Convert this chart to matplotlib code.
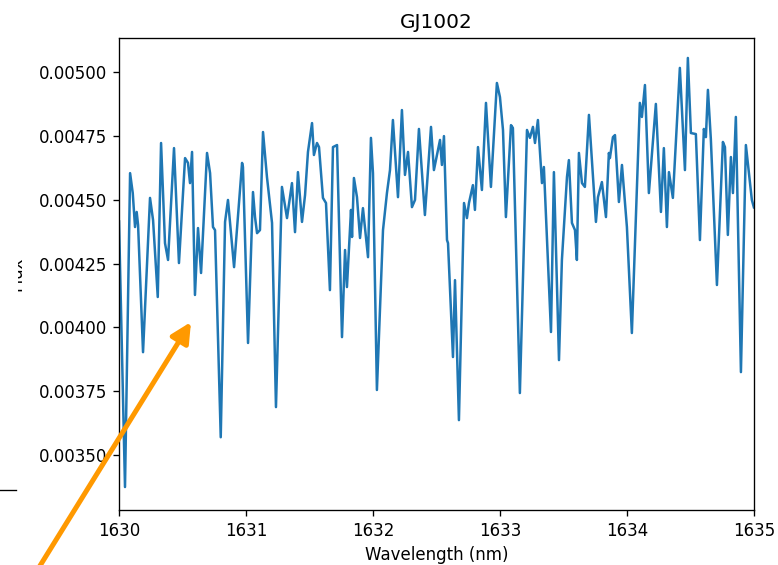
import matplotlib as mpl
mpl.use('Agg')

import matplotlib.pyplot as plt
import matplotlib.patches as patches
import matplotlib.lines as lines

# Spectrum
wavelength = [
    1630.000, 1630.047, 1630.087, 1630.108, 1630.126, 1630.139, 1630.150, 1630.189,
    1630.244, 1630.268, 1630.305, 1630.331, 1630.362, 1630.386, 1630.433, 1630.472,
    1630.520, 1630.543, 1630.559, 1630.575, 1630.598, 1630.622, 1630.646, 1630.693,
    1630.717, 1630.740, 1630.756, 1630.801, 1630.835, 1630.858, 1630.906, 1630.969,
    1630.976, 1631.016, 1631.055, 1631.071, 1631.087, 1631.110, 1631.134, 1631.165,
    1631.205, 1631.236, 1631.283, 1631.323, 1631.362, 1631.386, 1631.409, 1631.441,
    1631.465, 1631.488, 1631.520, 1631.535, 1631.559, 1631.575, 1631.606, 1631.630,
    1631.661, 1631.685, 1631.717, 1631.756, 1631.780, 1631.795, 1631.827, 1631.835,
    1631.850, 1631.874, 1631.898, 1631.921, 1631.961, 1631.984, 1632.000, 1632.031,
    1632.079, 1632.110, 1632.134, 1632.157, 1632.197, 1632.228, 1632.252, 1632.276,
    1632.307, 1632.331, 1632.362, 1632.409, 1632.457, 1632.480, 1632.504, 1632.528,
    1632.543, 1632.559, 1632.583, 1632.591, 1632.630, 1632.646, 1632.677, 1632.717,
    1632.740, 1632.756, 1632.787, 1632.803, 1632.827, 1632.858, 1632.890, 1632.929,
    1632.976, 1633.000, 1633.024, 1633.047, 1633.087, 1633.102, 1633.157, 1633.213,
    1633.236, 1633.260, 1633.276, 1633.299, 1633.331, 1633.346, 1633.402, 1633.425,
    1633.465, 1633.488, 1633.528, 1633.543, 1633.567, 1633.591, 1633.606, 1633.622,
    1633.646, 1633.669, 1633.701, 1633.756, 1633.772, 1633.803, 1633.835, 1633.858,
    1633.866, 1633.890, 1633.906, 1633.937, 1633.961, 1634.000, 1634.039, 1634.071,
    1634.102, 1634.118, 1634.142, 1634.173, 1634.228, 1634.268, 1634.291, 1634.315,
    1634.331, 1634.362, 1634.417, 1634.457, 1634.480, 1634.504, 1634.543, 1634.575,
    1634.606, 1634.622, 1634.638, 1634.661, 1634.709, 1634.756, 1634.772, 1634.795,
    1634.819, 1634.835, 1634.858, 1634.898, 1634.937, 1634.984, 1635.000,
]

flux = [
    0.004415, 0.003375, 0.004604, 0.004526, 0.004393, 0.004452, 0.004401, 0.003903,
    0.004507, 0.004420, 0.004119, 0.004722, 0.004330, 0.004264, 0.004702, 0.004252,
    0.004663, 0.004644, 0.004565, 0.004687, 0.004127, 0.004389, 0.004213, 0.004683,
    0.004604, 0.004393, 0.004381, 0.003570, 0.004413, 0.004499, 0.004236, 0.004644,
    0.004628, 0.003939, 0.004530, 0.004432, 0.004369, 0.004381, 0.004765, 0.004589,
    0.004409, 0.003688, 0.004550, 0.004428, 0.004565, 0.004373, 0.004608, 0.004413,
    0.004518, 0.004687, 0.004800, 0.004675, 0.004722, 0.004706, 0.004507, 0.004487,
    0.004146, 0.004706, 0.004714, 0.003962, 0.004303, 0.004158, 0.004460, 0.004354,
    0.004585, 0.004510, 0.004350, 0.004467, 0.004275, 0.004742, 0.004604, 0.003755,
    0.004381, 0.004526, 0.004616, 0.004812, 0.004510, 0.004851, 0.004597, 0.004687,
    0.004471, 0.004499, 0.004777, 0.004440, 0.004785, 0.004616, 0.004675, 0.004734,
    0.004636, 0.004749, 0.004342, 0.004330, 0.003884, 0.004185, 0.003637, 0.004487,
    0.004428, 0.004487, 0.004557, 0.004460, 0.004706, 0.004538, 0.004879, 0.004550,
    0.004957, 0.004902, 0.004773, 0.004432, 0.004792, 0.004781, 0.003743, 0.004773,
    0.004742, 0.004785, 0.004722, 0.004812, 0.004565, 0.004628, 0.003982, 0.004608,
    0.003872, 0.004264, 0.004589, 0.004655, 0.004409, 0.004381, 0.004264, 0.004683,
    0.004565, 0.004550, 0.004832, 0.004413, 0.004510, 0.004569, 0.004432, 0.004683,
    0.004663, 0.004745, 0.004753, 0.004491, 0.004636, 0.004393, 0.003978, 0.004432,
    0.004879, 0.004824, 0.004949, 0.004526, 0.004875, 0.004452, 0.004702, 0.004393,
    0.004608, 0.004507, 0.005016, 0.004616, 0.005055, 0.004761, 0.004757, 0.004342,
    0.004777, 0.004745, 0.004930, 0.004738, 0.004166, 0.004726, 0.004706, 0.004362,
    0.004667, 0.004526, 0.004824, 0.003825, 0.004714, 0.004499, 0.004470,
]

# original was rendered at 120 dpi with default font sizes
DPI = 120
fig = plt.figure(figsize=(778 / DPI, 565 / DPI), dpi=DPI)
ax = fig.add_axes([0.153, 0.0973, 0.816, 0.8354])

ax.plot(wavelength, flux, color='#1f77b4', lw=1.5)
ax.set_xlim(1630, 1635)
ax.set_ylim(0.003285, 0.005133)
ax.set_xticks([1630, 1631, 1632, 1633, 1634, 1635])
ax.set_yticks([0.0035, 0.00375, 0.0040, 0.00425, 0.0045, 0.00475, 0.0050])
ax.set_yticklabels(['0.00350', '0.00375', '0.00400', '0.00425',
                    '0.00450', '0.00475', '0.00500'])
ax.set_xlabel('Wavelength (nm)')
ax.set_ylabel('Flux', labelpad=8)
ax.set_title('GJ1002')

# the left strip of the screenshot hides half of the y label
fig.patches.append(patches.Rectangle((0, 0), 18, 565, transform=None,
                                     facecolor='white', edgecolor='none',
                                     zorder=5))
fig.lines.append(lines.Line2D([0, 16], [75, 75], transform=None,
                              color='black', lw=0.8, zorder=6))

# orange pointer arrow
ax.annotate('', xy=(191, 243), xytext=(38, -4),
            xycoords='figure pixels', textcoords='figure pixels',
            annotation_clip=False,
            arrowprops=dict(arrowstyle='-|>', color='#ff9900', lw=3,
                            mutation_scale=25, shrinkA=0, shrinkB=0))

plt.savefig('out.png', dpi=DPI)
